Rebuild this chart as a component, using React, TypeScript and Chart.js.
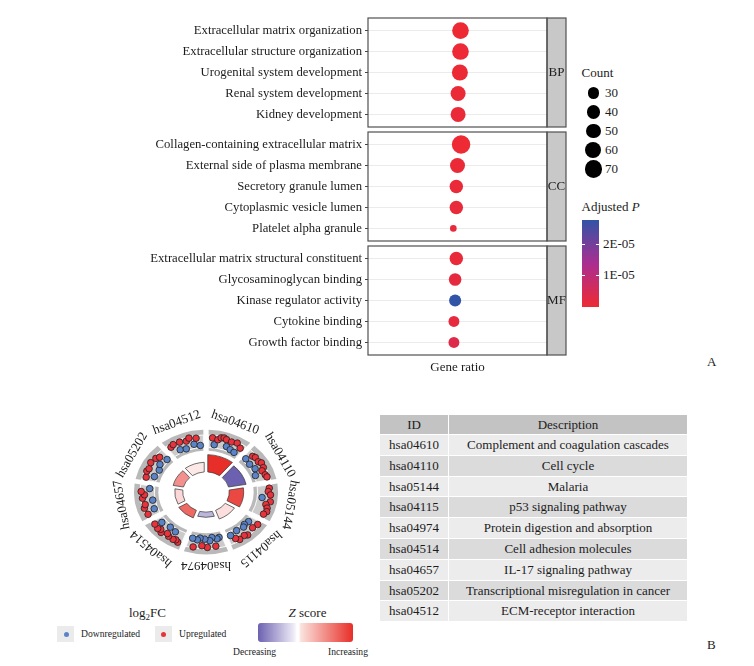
import React, { useEffect, useRef } from "react";
import { Chart, registerables } from "chart.js";

Chart.register(...registerables);

const FONT = '"Liberation Serif", "DejaVu Serif", serif';
const INK = "#1c1c1c";

// ---------------- Panel A data ----------------
const bpTerms = [
  "Extracellular matrix organization",
  "Extracellular structure organization",
  "Urogenital system development",
  "Renal system development",
  "Kidney development",
];
const bpRatio = [0.0555, 0.0555, 0.0554, 0.0551, 0.0551];
const bpCount = [63, 63, 58, 51, 51];
const bpPadj = [2e-7, 3e-7, 5e-7, 7e-7, 8e-7];

const ccTerms = [
  "Collagen-containing extracellular matrix",
  "External side of plasma membrane",
  "Secretory granule lumen",
  "Cytoplasmic vesicle lumen",
  "Platelet alpha granule",
];
const ccRatio = [0.0556, 0.055, 0.0548, 0.0548, 0.0543];
const ccCount = [77, 51, 41, 41, 10];
const ccPadj = [1e-7, 6e-7, 9e-7, 1e-6, 1.2e-6];

const mfTerms = [
  "Extracellular matrix structural constituent",
  "Glycosaminoglycan binding",
  "Kinase regulator activity",
  "Cytokine binding",
  "Growth factor binding",
];
const mfRatio = [0.0548, 0.0546, 0.0546, 0.0544, 0.0544];
const mfCount = [41, 36, 33, 27, 27];
const mfPadj = [1.0e-6, 1.7e-6, 2.79e-5, 1.5e-6, 3.3e-6];

const strips = ["BP", "CC", "MF"];
const countBreaks = [30, 40, 50, 60, 70];
const padjBreaks = [1e-5, 2e-5];
const padjBreakLabels = ["1E-05", "2E-05"];

// ---------------- Panel B data ----------------
const pathIds = ["hsa04610", "hsa04110", "hsa05144", "hsa04115", "hsa04974", "hsa04514", "hsa04657", "hsa05202", "hsa04512"];
const pathDesc = [
  "Complement and coagulation cascades",
  "Cell cycle",
  "Malaria",
  "p53 signaling pathway",
  "Protein digestion and absorption",
  "Cell adhesion molecules",
  "IL-17 signaling pathway",
  "Transcriptional misregulation in cancer",
  "ECM-receptor interaction",
];
const negLog10P = [9, 8, 6.5, 4.8, 2.7, 4.2, 3.6, 4.7, 5.0];
const zScores = [3.2, -2.6, 2.8, 0.5, -1.2, 2.3, 0.6, 1.7, 0.35];
const geneLogFC = [
  [1.8, -1.5, 1.2, 2.4, 2.7, 2.2, -1.0, 1.9, -1.8, 2.5, -2.2, 1.0],
  [-1.5, 1.5, 2.0, -2.0, 1.8, 2.6, -1.2, 2.2, 1.0, -2.5, 1.6, 2.0],
  [2.0, 1.5, 2.5, -1.0, 2.8, 1.2, 2.2, 2.6, 1.8],
  [2.2, -1.8, 1.5, -2.2, -1.5, 2.6, 1.9, -2.0, 2.4, 1.1, -1.2],
  [-2.0, -1.5, 2.0, -2.5, -1.0, 2.3, -1.8, 1.5, -2.2, -1.2, 2.6, -1.6],
  [2.5, 1.8, 2.2, -1.5, 2.0, 1.2, -2.0, 2.6, 1.6, 2.3, -1.0, 1.9],
  [2.0, -1.5, 2.4, 1.6, -2.0, 2.2, 1.2, 2.6, -1.0],
  [1.5, -1.8, 2.2, 1.8, -2.4, 2.6, -1.2, 2.0, 1.1, -2.0],
  [1.6, 2.2, -1.5, 2.0, -2.2, 1.4, 2.5, -1.0, 1.8, -2.0],
];

// ---------------- helpers ----------------
const sizeR = (c: number) => 1.05 * Math.sqrt(c);
const allPadj = [...bpPadj, ...ccPadj, ...mfPadj];
const P_MIN = 0;
const P_MAX = Math.max(...allPadj);
const P_STOPS = [
  [238, 42, 51],
  [170, 46, 145],
  [50, 84, 166],
];
function lerp(a: number[], b: number[], t: number) {
  return a.map((v, i) => Math.round(v + (b[i] - v) * t));
}
function rgb(c: number[]) {
  return `rgb(${c[0]},${c[1]},${c[2]})`;
}
function padjColor(p: number) {
  const t = Math.max(0, Math.min(1, (p - P_MIN) / (P_MAX - P_MIN)));
  return t < 0.5 ? rgb(lerp(P_STOPS[0], P_STOPS[1], t / 0.5)) : rgb(lerp(P_STOPS[1], P_STOPS[2], (t - 0.5) / 0.5));
}
const Z_LOW = [108, 97, 176];
const Z_HIGH = [232, 46, 40];
const WHITE = [255, 255, 255];
function zColor(z: number) {
  const zmin = Math.min(...zScores);
  const zmax = Math.max(...zScores);
  return z >= 0 ? rgb(lerp(WHITE, Z_HIGH, z / zmax)) : rgb(lerp(WHITE, Z_LOW, z / zmin));
}

// ---------------- Panel A charts ----------------
const PANEL_TOPS = [18, 132, 246];
const PANEL_H = 109;
const AXIS_W = 368;
const PLOT_RIGHT_PAD = 23;
const STRIP_W = 19;
const CANVAS_A_W = 570;
const X_TITLE_H = 20;
const VPAD = 10;

const framePlugin = {
  id: "frame",
  afterDraw(chart: any, _args: any, opts: any) {
    const { ctx, chartArea } = chart;
    const { left, right, top, bottom } = chartArea;
    ctx.save();
    ctx.fillStyle = "#c8c8c8";
    ctx.fillRect(right, top, STRIP_W, bottom - top);
    ctx.strokeStyle = "#505050";
    ctx.lineWidth = 1.2;
    ctx.strokeRect(right, top, STRIP_W, bottom - top);
    ctx.strokeRect(left, top, right - left, bottom - top);
    ctx.fillStyle = INK;
    ctx.font = `13px ${FONT}`;
    ctx.textAlign = "center";
    ctx.textBaseline = "middle";
    ctx.fillText(opts.label, right + STRIP_W / 2, (top + bottom) / 2);
    ctx.restore();
  },
};

function panelConfig(terms: string[], ratio: number[], count: number[], padj: number[], strip: string, last: boolean): any {
  return {
    type: "bubble",
    data: {
      datasets: [
        {
          data: ratio.map((x, i) => ({ x, y: i, r: sizeR(count[i]) })),
          backgroundColor: padj.map(padjColor),
          borderWidth: 0,
          hoverBorderWidth: 0,
        },
      ],
    },
    options: {
      animation: false,
      responsive: false,
      maintainAspectRatio: false,
      events: [],
      layout: { padding: { top: VPAD, right: PLOT_RIGHT_PAD, bottom: last ? 0 : VPAD, left: 0 } },
      plugins: {
        legend: { display: false },
        tooltip: { enabled: false },
        frame: { label: strip },
      },
      scales: {
        x: {
          type: "linear",
          min: 0.04,
          max: 0.07,
          display: last,
          ticks: { display: false },
          grid: { display: false },
          border: { display: false },
          title: {
            display: last,
            text: "Gene ratio",
            color: INK,
            font: { family: FONT, size: 13 },
            padding: 0,
          },
          afterFit: (s: any) => {
            s.height = last ? X_TITLE_H : 0;
            s.paddingLeft = 0;
            s.paddingRight = 0;
          },
        },
        y: {
          type: "linear",
          reverse: true,
          min: -0.6,
          max: 4.6,
          afterBuildTicks: (s: any) => {
            s.ticks = terms.map((_, i) => ({ value: i }));
          },
          ticks: {
            autoSkip: false,
            padding: 3,
            color: INK,
            font: { family: FONT, size: 12.7 },
            callback: (v: any) => terms[v],
          },
          grid: { color: "#ebebeb", tickColor: "#444", tickLength: 3, lineWidth: 1 },
          border: { display: false },
          afterFit: (s: any) => {
            s.width = AXIS_W;
            s.paddingTop = 0;
            s.paddingBottom = 0;
          },
        },
      },
    },
    plugins: [framePlugin],
  };
}

// ---------------- Panel B circle ----------------
const CIRCLE_LEFT = 91;
const CIRCLE_TOP = 392;
const CIRCLE_W = 230;
const CIRCLE_H = 200;
const STEP = 360 / pathIds.length;
const INNER_R = 21;
const BAR_K = 2;
const BAND_IN = 43;
const BAND_OUT = 65;
const LINE_IN = 46.5;
const LINE_OUT = 59.5;
const LFC_MID = 53;
const LFC_K = 2.1;
const LABEL_R = 77;
const RED = "#e8323c";
const BLUE = "#5b84c8";

const genePoints = geneLogFC.flatMap((fcs, i) =>
  fcs.map((fc, j) => {
    const deg = i * STEP + 6 + ((STEP - 12) * j) / (fcs.length - 1);
    const th = (deg * Math.PI) / 180;
    const r = LFC_MID + LFC_K * fc;
    return { x: r * Math.sin(th), y: r * Math.cos(th), fc };
  })
);

function sectorPath(ctx: any, rIn: number, rOut: number, d0: number, d1: number, gap: number) {
  const a0 = ((d0 - 90) * Math.PI) / 180;
  const a1 = ((d1 - 90) * Math.PI) / 180;
  ctx.beginPath();
  ctx.arc(0, 0, rOut, a0 + gap / rOut, a1 - gap / rOut);
  ctx.arc(0, 0, rIn, a1 - gap / rIn, a0 + gap / rIn, true);
  ctx.closePath();
}

const circlePlugin = {
  id: "goDecor",
  beforeDatasetsDraw(chart: any) {
    const { ctx, scales } = chart;
    const cx = scales.x.getPixelForValue(0);
    const cy = scales.y.getPixelForValue(0);
    const sx = scales.x.getPixelForValue(1) - cx;
    const sy = cy - scales.y.getPixelForValue(1);
    ctx.save();
    ctx.translate(cx, cy);
    ctx.scale(sx, sy);
    pathIds.forEach((_, i) => {
      const d0 = i * STEP;
      const d1 = (i + 1) * STEP;
      sectorPath(ctx, BAND_IN, BAND_OUT, d0, d1, 2.4);
      ctx.fillStyle = "#b9b9b9";
      ctx.fill();
      sectorPath(ctx, LINE_IN, LINE_OUT, d0, d1, 2.4);
      ctx.fillStyle = "#cbcbcb";
      ctx.fill();
      ctx.strokeStyle = "#ffffff";
      ctx.lineWidth = 0.9;
      ctx.stroke();
      const rOut = INNER_R + BAR_K * negLog10P[i];
      sectorPath(ctx, INNER_R, rOut, d0, d1, 1.6);
      ctx.fillStyle = zColor(zScores[i]);
      ctx.fill();
      ctx.strokeStyle = "#3a3a3a";
      ctx.lineWidth = 0.7;
      ctx.stroke();
    });
    ctx.restore();
  },
  afterDatasetsDraw(chart: any) {
    const { ctx, scales } = chart;
    const cx = scales.x.getPixelForValue(0);
    const cy = scales.y.getPixelForValue(0);
    const sx = scales.x.getPixelForValue(1) - cx;
    const sy = cy - scales.y.getPixelForValue(1);
    ctx.save();
    ctx.fillStyle = INK;
    ctx.font = `13px ${FONT}`;
    ctx.textAlign = "center";
    ctx.textBaseline = "middle";
    pathIds.forEach((id, i) => {
      const th = (((i + 0.5) * STEP) * Math.PI) / 180;
      const px = cx + sx * LABEL_R * Math.sin(th);
      const py = cy - sy * LABEL_R * Math.cos(th);
      ctx.save();
      ctx.translate(px, py);
      ctx.rotate(th);
      ctx.fillText(id, 0, 0);
      ctx.restore();
    });
    ctx.restore();
  },
};

function circleConfig(): any {
  return {
    type: "scatter",
    data: {
      datasets: [
        {
          data: genePoints.map((p) => ({ x: p.x, y: p.y })),
          pointBackgroundColor: genePoints.map((p) => (p.fc > 0 ? RED : BLUE)),
          pointBorderColor: "#202020",
          pointBorderWidth: 0.8,
          pointRadius: 3.3,
          pointHoverRadius: 3.3,
        },
      ],
    },
    options: {
      animation: false,
      responsive: false,
      maintainAspectRatio: false,
      events: [],
      layout: { padding: 0 },
      plugins: { legend: { display: false }, tooltip: { enabled: false } },
      scales: {
        x: { type: "linear", min: -100, max: 100, display: false },
        y: { type: "linear", min: -100, max: 100, display: false },
      },
    },
    plugins: [circlePlugin],
  };
}

// ---------------- component ----------------
const abs = (left: number, top: number, extra: any = {}) => ({ position: "absolute" as const, left, top, ...extra });

export default function App() {
  const r0 = useRef<HTMLCanvasElement>(null);
  const r1 = useRef<HTMLCanvasElement>(null);
  const r2 = useRef<HTMLCanvasElement>(null);
  const rc = useRef<HTMLCanvasElement>(null);

  useEffect(() => {
    const charts: Chart[] = [];
    charts.push(new Chart(r0.current as any, panelConfig(bpTerms, bpRatio, bpCount, bpPadj, strips[0], false)));
    charts.push(new Chart(r1.current as any, panelConfig(ccTerms, ccRatio, ccCount, ccPadj, strips[1], false)));
    charts.push(new Chart(r2.current as any, panelConfig(mfTerms, mfRatio, mfCount, mfPadj, strips[2], true)));
    charts.push(new Chart(rc.current as any, circleConfig()));
    return () => charts.forEach((c) => c.destroy());
  }, []);

  const cbTop = 219.5;
  const cbH = 87;
  const cbY = (v: number) => cbTop + cbH - ((v - P_MIN) / (P_MAX - P_MIN)) * cbH;

  return (
    <div style={{ position: "absolute", left: 0, top: 0, width: 754, height: 666, background: "#fff", fontFamily: FONT, color: INK, overflow: "hidden" }}>
      {[r0, r1, r2].map((ref, k) => {
        const h = k === 2 ? VPAD + PANEL_H + X_TITLE_H : VPAD + PANEL_H + VPAD;
        return (
          <canvas
            key={k}
            ref={ref}
            width={CANVAS_A_W}
            height={h}
            style={abs(0, PANEL_TOPS[k] - VPAD, { display: "block", width: CANVAS_A_W, height: h })}
          />
        );
      })}

      {/* Count legend */}
      <div style={abs(581.5, 65, { fontSize: 13, lineHeight: "16px" })}>Count</div>
      {countBreaks.map((c, i) => {
        const r = sizeR(c);
        const cy = 93 + i * 19;
        return (
          <React.Fragment key={c}>
            <div style={abs(593.3 - r, cy - r, { width: 2 * r, height: 2 * r, borderRadius: "50%", background: "#000" })} />
            <div style={abs(605, cy - 8, { fontSize: 13, lineHeight: "16px" })}>{c}</div>
          </React.Fragment>
        );
      })}

      {/* Adjusted P legend */}
      <div style={abs(581.5, 198.5, { fontSize: 13, lineHeight: "16px", whiteSpace: "nowrap" })}>
        Adjusted <i>P</i>
      </div>
      <div
        style={abs(581.5, cbTop, {
          width: 17.5,
          height: cbH,
          background: `linear-gradient(to top, ${rgb(P_STOPS[0])} 0%, ${rgb(P_STOPS[1])} 50%, ${rgb(P_STOPS[2])} 100%)`,
        })}
      />
      {padjBreaks.map((v, i) => (
        <React.Fragment key={v}>
          <div style={abs(581.5, cbY(v) - 0.5, { width: 3.5, height: 1, background: "#fff" })} />
          <div style={abs(595.5, cbY(v) - 0.5, { width: 3.5, height: 1, background: "#fff" })} />
          <div style={abs(603, cbY(v) - 8, { fontSize: 13, lineHeight: "16px", whiteSpace: "nowrap" })}>{padjBreakLabels[i]}</div>
        </React.Fragment>
      ))}

      <div style={abs(707, 354, { fontSize: 13, lineHeight: "16px" })}>A</div>

      {/* GO circle */}
      <canvas ref={rc} width={CIRCLE_W} height={CIRCLE_H} style={abs(CIRCLE_LEFT, CIRCLE_TOP, { display: "block", width: CIRCLE_W, height: CIRCLE_H })} />

      {/* circle legend */}
      <div style={abs(110, 605, { width: 75, textAlign: "center", fontSize: 13, lineHeight: "16px" })}>
        log<sub style={{ fontSize: 9, verticalAlign: "-3px" }}>2</sub>FC
      </div>
      <div style={abs(57, 626, { width: 17, height: 16, background: "#ebebeb" })} />
      <div style={abs(63.5, 631.5, { width: 5, height: 5, borderRadius: "50%", background: BLUE })} />
      <div style={abs(81, 627, { fontSize: 9.6, lineHeight: "13px" })}>Downregulated</div>
      <div style={abs(155, 626, { width: 17, height: 16, background: "#ebebeb" })} />
      <div style={abs(161, 631.5, { width: 5, height: 5, borderRadius: "50%", background: RED })} />
      <div style={abs(179, 627, { fontSize: 9.6, lineHeight: "13px" })}>Upregulated</div>

      <div style={abs(270, 605, { width: 75, textAlign: "center", fontSize: 13, lineHeight: "16px" })}>
        <i>Z</i> score
      </div>
      <div
        style={abs(258, 623, {
          width: 95,
          height: 19,
          borderRadius: 3,
          background: `linear-gradient(to right, ${rgb(Z_LOW)} 0%, #efecf7 38%, #ffffff 41%, #ffffff 43%, #fbe2dd 45%, ${rgb(Z_HIGH)} 100%)`,
        })}
      />
      <div style={abs(233, 645, { fontSize: 9.6, lineHeight: "13px" })}>Decreasing</div>
      <div style={abs(328, 645, { fontSize: 9.6, lineHeight: "13px" })}>Increasing</div>

      {/* table */}
      <div style={abs(380, 415, { width: 307, fontSize: 13 })}>
        <div style={{ display: "flex", height: 20, background: "#c3c3c3", borderBottom: "1px solid #fff", boxSizing: "border-box" }}>
          <div style={{ width: 68, textAlign: "center", lineHeight: "19px", borderRight: "1px solid #fff" }}>ID</div>
          <div style={{ flex: 1, textAlign: "center", lineHeight: "19px" }}>Description</div>
        </div>
        {pathIds.map((id, i) => (
          <div
            key={id}
            style={{
              display: "flex",
              height: 20.8,
              background: i % 2 === 0 ? "#ececec" : "#dbdbdc",
              borderBottom: "1px solid #fff",
              boxSizing: "border-box",
            }}
          >
            <div style={{ width: 68, textAlign: "center", lineHeight: "20px", borderRight: "1px solid #fff" }}>{id}</div>
            <div style={{ flex: 1, textAlign: "center", lineHeight: "20px", whiteSpace: "nowrap" }}>{pathDesc[i]}</div>
          </div>
        ))}
      </div>

      <div style={abs(707, 637, { fontSize: 13, lineHeight: "16px" })}>B</div>
    </div>
  );
}
